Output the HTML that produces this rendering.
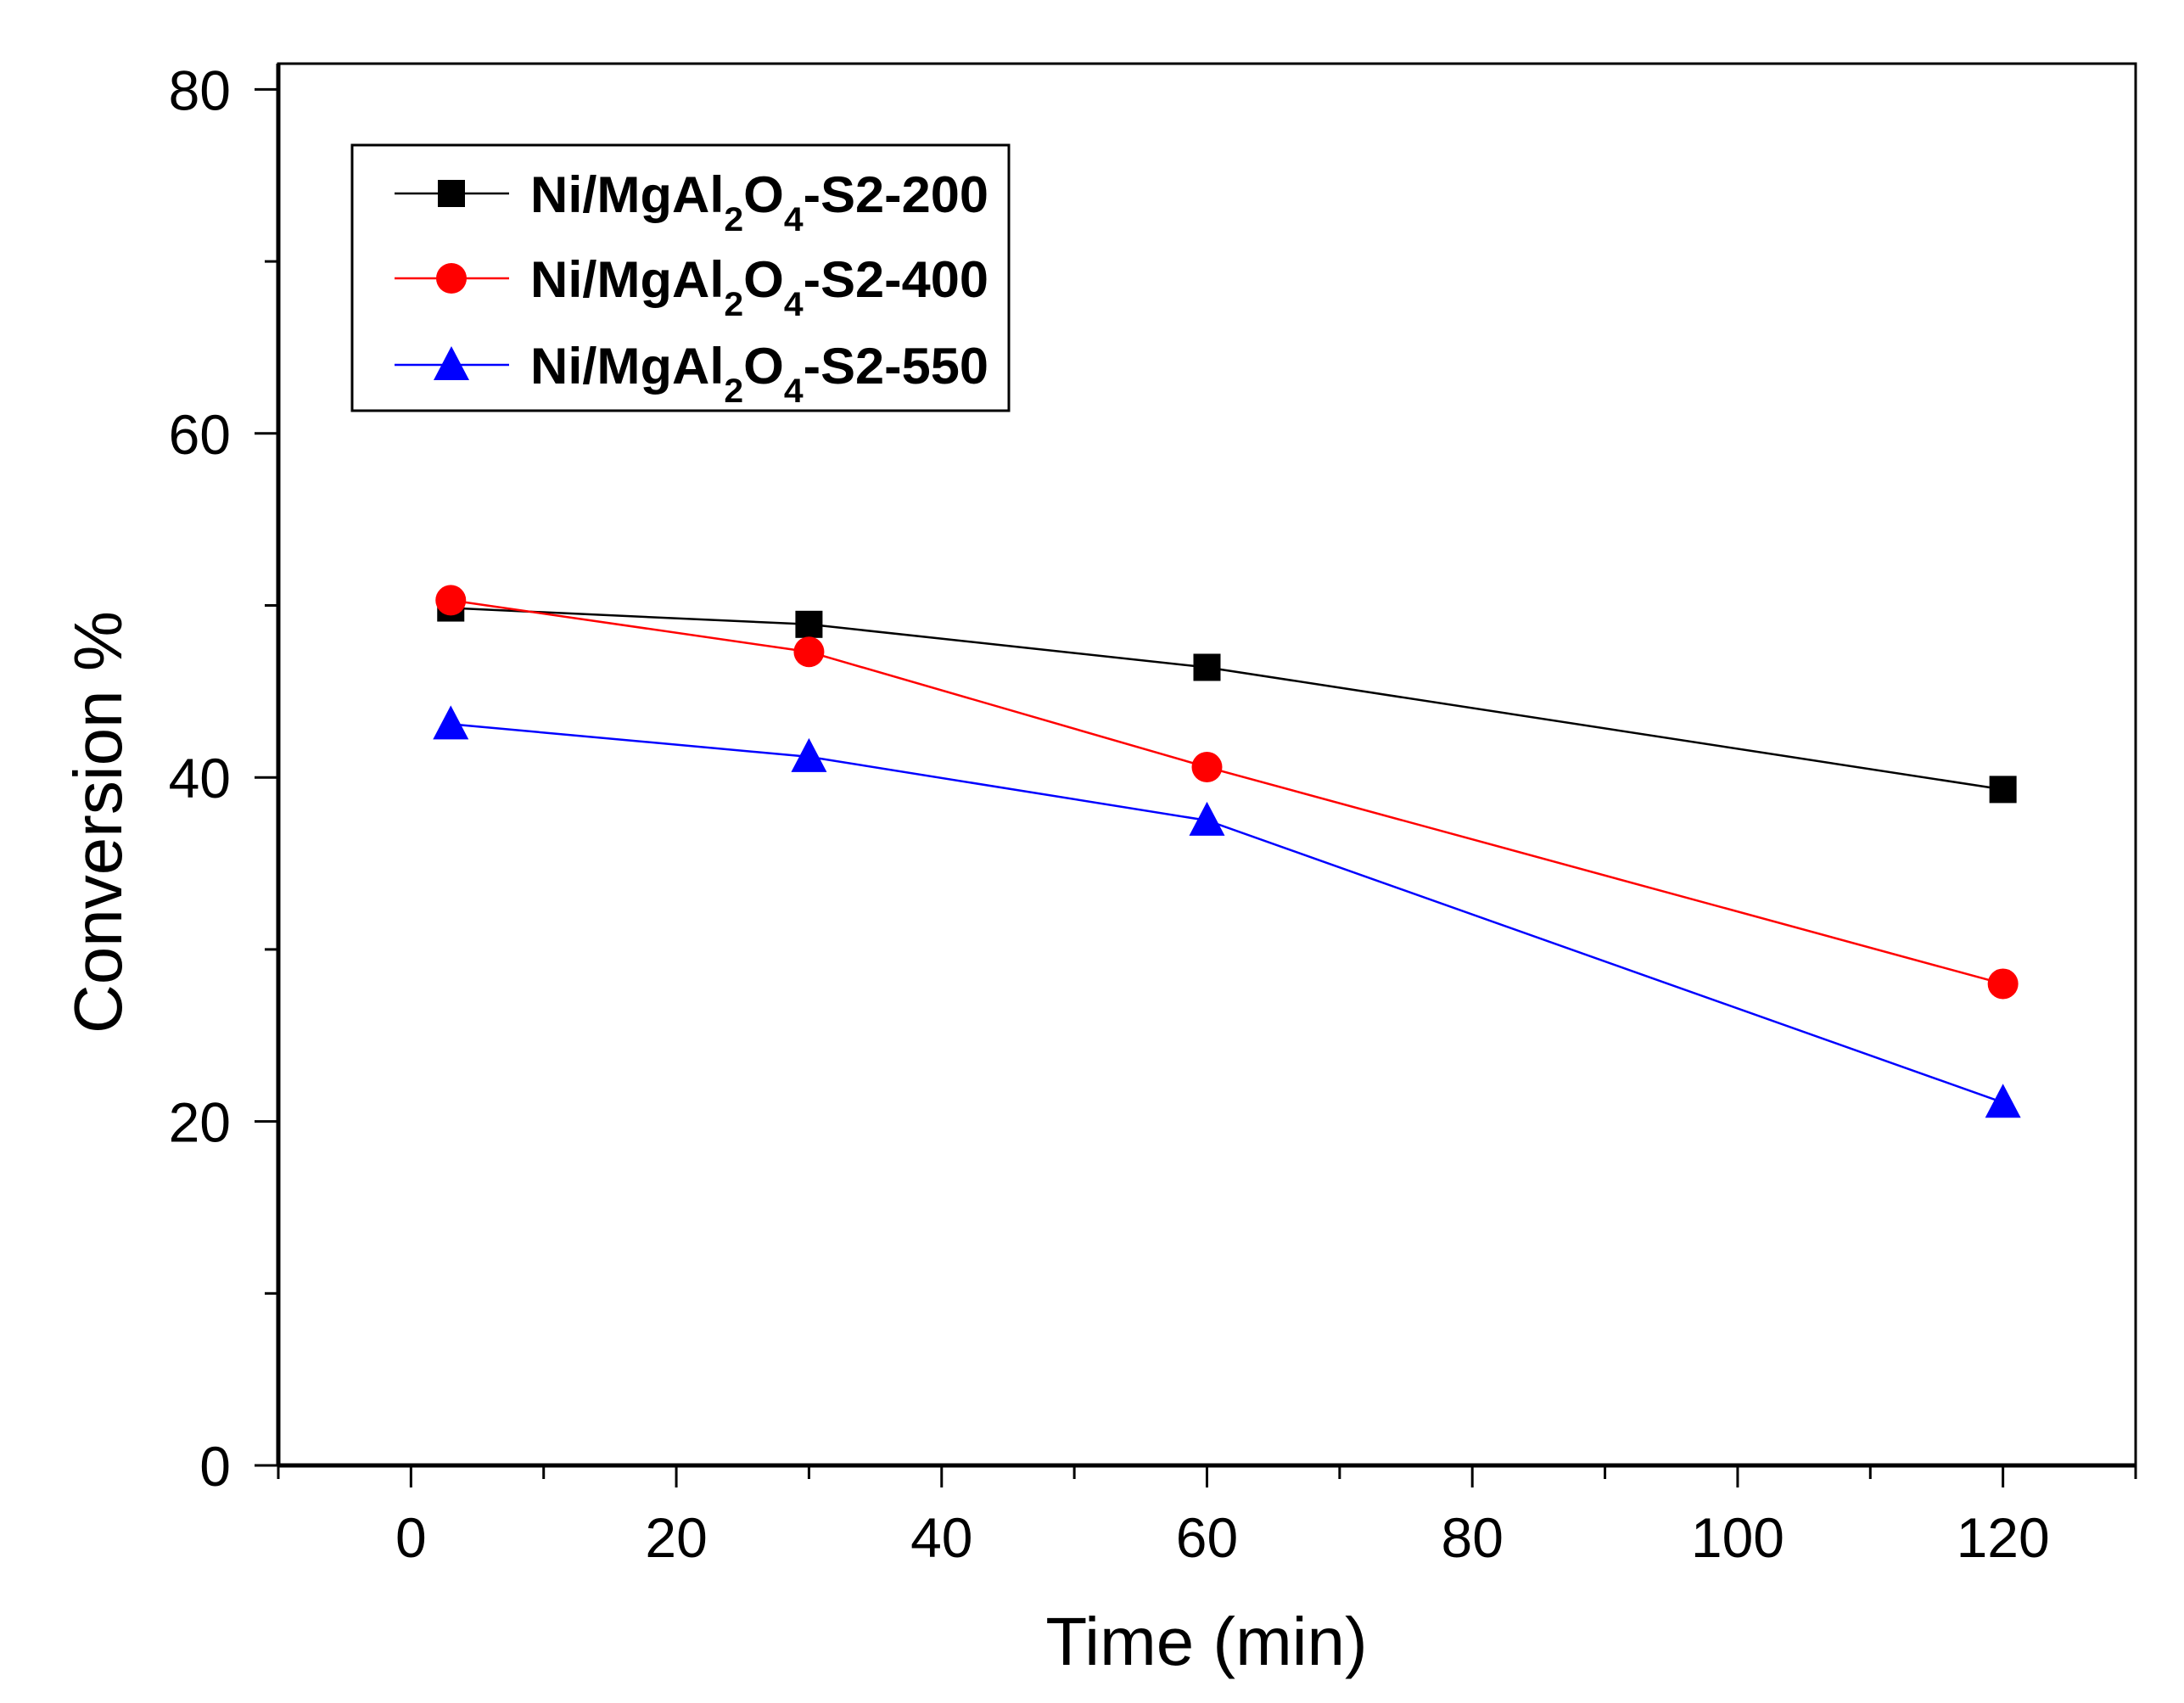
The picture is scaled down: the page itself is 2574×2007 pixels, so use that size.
<!DOCTYPE html>
<html><head><meta charset="utf-8"><style>html,body{margin:0;padding:0;background:#fff}svg{display:block}text{font-family:"Liberation Sans",Arial,sans-serif}</style></head>
<body>
<svg id="chart" width="2574" height="2007" xmlns="http://www.w3.org/2000/svg">
<rect x="0" y="0" width="2574" height="2007" fill="#fff"/>
<g id="plot"></g>
</svg>
<script>
const times = [3, 30, 60, 120];
const s200 = [49.85, 48.9, 46.4, 39.3];
const s400 = [50.3, 47.3, 40.6, 28.0];
const s550 = [43.1, 41.2, 37.5, 21.1];
const xTickLabels = [0, 20, 40, 60, 80, 100, 120];
const yTickLabels = [0, 20, 40, 60, 80];
const seriesNames = ["200", "400", "550"];

const NS = "http://www.w3.org/2000/svg";
const g = document.getElementById('plot');
const L = 328, R = 2517, T = 75, B = 1727;
const xmin = -10, xmax = 130, ymin = 0, ymax = 81.5;
const px = v => L + (v - xmin) / (xmax - xmin) * (R - L);
const py = v => B - (v - ymin) / (ymax - ymin) * (B - T);
function mk(tag, attrs, parent) { const e = document.createElementNS(NS, tag); for (const k in attrs) e.setAttribute(k, attrs[k]); (parent || g).appendChild(e); return e; }

const frame = mk('rect', {x: L, y: T, width: R - L, height: B - T, fill: 'none', stroke: '#000', 'stroke-width': 3});


const xaxis = mk('line', {x1: L, y1: B, x2: R, y2: B, stroke: '#000', 'stroke-width': 5});


const yaxis = mk('line', {x1: L, y1: T, x2: L, y2: B, stroke: '#000', 'stroke-width': 5});



for (let v = -10; v <= 130; v += 10) {
  const major = xTickLabels.includes(v);
  const t = mk('line', {x1: px(v), y1: B, x2: px(v), y2: B + (major ? 26 : 16), stroke: '#000', 'stroke-width': 3});
  
  
}
xTickLabels.forEach(v => {
  const t = mk('text', {x: px(v), y: 1835, 'font-size': 66, 'text-anchor': 'middle'});
  t.textContent = v;
  
  
});
for (let v = 0; v <= 80; v += 10) {
  const major = yTickLabels.includes(v);
  const t = mk('line', {x1: L, y1: py(v), x2: L - (major ? 28 : 16), y2: py(v), stroke: '#000', 'stroke-width': 3});
  
  
}
yTickLabels.forEach(v => {
  const t = mk('text', {x: 272, y: py(v) + 24, 'font-size': 66, 'text-anchor': 'end'});
  t.textContent = v;
  
  
});
const xt = mk('text', {x: 1422, y: 1962, 'font-size': 80, 'text-anchor': 'middle'});
xt.textContent = 'Time (min)';


const yt = mk('text', {x: 0, y: 0, 'font-size': 80, 'text-anchor': 'middle', transform: 'translate(143,969) rotate(-90)'});
yt.textContent = 'Conversion %';



function marker(kind, cx, cy, color, s) {
  let e;
  if (kind === 'sq') e = mk('rect', {x: cx - s / 2, y: cy - s / 2, width: s, height: s, fill: color});
  else if (kind === 'ci') e = mk('circle', {cx: cx, cy: cy, r: s / 2 + 2, fill: color});
  else e = mk('polygon', {points: `${cx},${cy - s / 2 - 6} ${cx - s / 2 - 5},${cy + s / 2 + 2} ${cx + s / 2 + 5},${cy + s / 2 + 2}`, fill: color});
  return e;
}
const series = [[s200, '#000', 'sq'], [s400, '#ff0000', 'ci'], [s550, '#0000ff', 'tr']];
series.forEach(([vals, color, kind], i) => {
  const pl = mk('polyline', {points: vals.map((v, j) => px(times[j]) + ',' + py(v)).join(' '), fill: 'none', stroke: color, 'stroke-width': 2.5});
  
  
  vals.forEach((v, j) => {
    const m = marker(kind, px(times[j]), py(v), color, 32);
    
    
  });
});

const lg = mk('rect', {x: 415, y: 171, width: 774, height: 313, fill: '#fff', stroke: '#000', 'stroke-width': 3});


const ly = [228, 328, 430];
series.forEach(([vals, color, kind], i) => {
  const l = mk('line', {x1: 465, y1: ly[i], x2: 600, y2: ly[i], stroke: color, 'stroke-width': 2.5});
  
  
  const m = marker(kind, 532, ly[i], color, 32);
  
  
  const t = mk('text', {x: 625, y: ly[i] + 22, 'font-size': 60, 'font-weight': 'bold', textLength: 540, lengthAdjust: 'spacingAndGlyphs'});
  t.innerHTML = 'Ni/MgAl<tspan font-size="40" dy="22">2</tspan><tspan dy="-22">O</tspan><tspan font-size="40" dy="22">4</tspan><tspan dy="-22">-S2-' + seriesNames[i] + '</tspan>';
  
  
});
</script>
</body></html>
